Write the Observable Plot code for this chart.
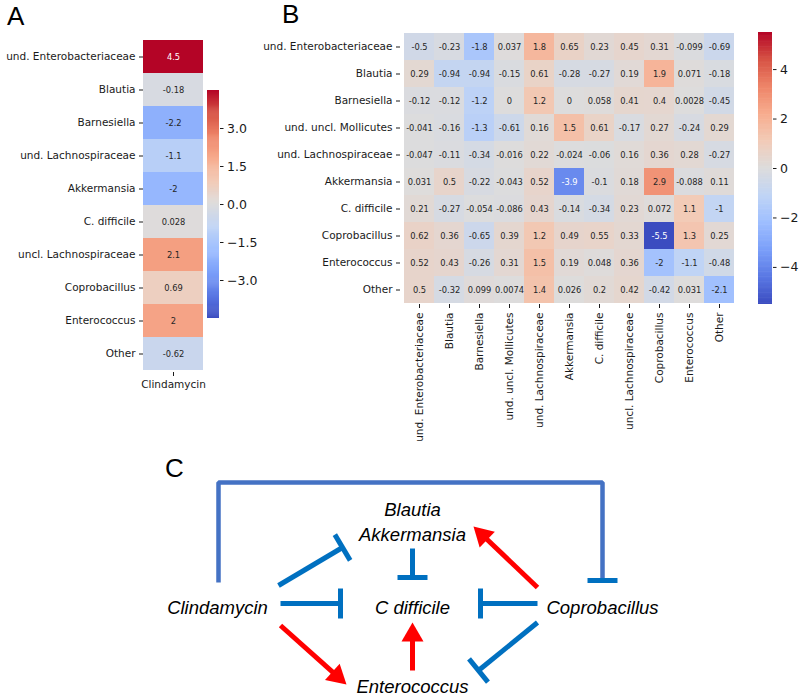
<!DOCTYPE html>
<html><head><meta charset="utf-8">
<script src="https://cdn.jsdelivr.net/npm/d3@7"></script>
<script src="https://cdn.jsdelivr.net/npm/@observablehq/plot@0.6"></script>
<style>
body{margin:0;background:#fff;}
#root{position:relative;width:800px;height:697px;overflow:hidden;background:#fff;font-family:"DejaVu Sans";}
#root > *{position:absolute;}
.panel{font-family:"Liberation Sans";font-size:26px;line-height:26px;color:#000;}
</style></head><body><div id="root"></div>
<script>
// ---------- DATA ----------
const taxaA = ["und. Enterobacteriaceae","Blautia","Barnesiella","und. Lachnospiraceae","Akkermansia","C. difficile","uncl. Lachnospiraceae","Coprobacillus","Enterococcus","Other"];
const clindamycinValues = [4.5,-0.18,-2.2,-1.1,-2,0.028,2.1,0.69,2,-0.62];
const treatmentA = ["Clindamycin"];
const rowsB = ["und. Enterobacteriaceae","Blautia","Barnesiella","und. uncl. Mollicutes","und. Lachnospiraceae","Akkermansia","C. difficile","Coprobacillus","Enterococcus","Other"];
const colsB = ["und. Enterobacteriaceae","Blautia","Barnesiella","und. uncl. Mollicutes","und. Lachnospiraceae","Akkermansia","C. difficile","uncl. Lachnospiraceae","Coprobacillus","Enterococcus","Other"];
const rowEnterobacteriaceae = [-0.5,-0.23,-1.8,0.037,1.8,0.65,0.23,0.45,0.31,-0.099,-0.69];
const rowBlautia = [0.29,-0.94,-0.94,-0.15,0.61,-0.28,-0.27,0.19,1.9,0.071,-0.18];
const rowBarnesiella = [-0.12,-0.12,-1.2,0,1.2,0,0.058,0.41,0.4,0.0028,-0.45];
const rowMollicutes = [-0.041,-0.16,-1.3,-0.61,0.16,1.5,0.61,-0.17,0.27,-0.24,0.29];
const rowLachnospiraceae = [-0.047,-0.11,-0.34,-0.016,0.22,-0.024,-0.06,0.16,0.36,0.28,-0.27];
const rowAkkermansia = [0.031,0.5,-0.22,-0.043,0.52,-3.9,-0.1,0.18,2.9,-0.088,0.11];
const rowCdifficile = [0.21,-0.27,-0.054,-0.086,0.43,-0.14,-0.34,0.23,0.072,1.1,-1];
const rowCoprobacillus = [0.62,0.36,-0.65,0.39,1.2,0.49,0.55,0.33,-5.5,1.3,0.25];
const rowEnterococcus = [0.52,0.43,-0.26,0.31,1.5,0.19,0.048,0.36,-2,-1.1,-0.48];
const rowOther = [0.5,-0.32,0.099,0.0074,1.4,0.026,0.2,0.42,-0.42,0.031,-2.1];
const valuesB = [rowEnterobacteriaceae,rowBlautia,rowBarnesiella,rowMollicutes,rowLachnospiraceae,rowAkkermansia,rowCdifficile,rowCoprobacillus,rowEnterococcus,rowOther];
const colorLimitA = 4.5, colorLimitB = 5.5;
const colorbarTicksA = [-3,-1.5,0,1.5,3];
const colorbarTicksB = [-4,-2,0,2,4];

// diagram (panel C)
const nodeNames = ["Clindamycin","Blautia\nAkkermansia","C difficile","Coprobacillus","Enterococcus"];
const nodeColumn = [0,1,1,2,1];
const nodeRow = [1,0,1,1,2];
const edgeSource = ["Clindamycin","Clindamycin","Clindamycin","Clindamycin","Blautia\nAkkermansia","Coprobacillus","Coprobacillus","Coprobacillus","Enterococcus"];
const edgeTarget = ["Coprobacillus","Blautia\nAkkermansia","C difficile","Enterococcus","C difficile","Blautia\nAkkermansia","C difficile","Enterococcus","C difficile"];
const edgeEffect = ["inhibit-over","inhibit","inhibit","promote","inhibit","promote","inhibit","inhibit","promote"];

// ---------- STYLE ----------
const coolwarm = ["#3b4cc0","#5a78e4","#7b9ff9","#9ebeff","#c0d4f5","#dddcdc","#f2cbb7","#f7ac8e","#ee8468","#d65244","#b40426"];
const colorScale = lim => ({type:"linear", domain: d3.range(11).map(i => -lim + 2*lim*i/10), range: coolwarm, interpolate: "rgb"});
const ink = "#1a1a1a";
const root = document.getElementById("root");
function place(el, left, top){ el.style.left = left+"px"; el.style.top = top+"px"; root.appendChild(el); }
const darkCell = (v, lim) => { const t = (v + lim)/(2*lim); return t < 0.2 || t > 0.85; };
const cellFont = 8.3;

// ---------- PANEL A ----------
const dataA = taxaA.map((t,i) => ({col: treatmentA[0], row: t, value: clindamycinValues[i]}));
const chartA = Plot.plot({
  width: 230, height: 400, marginLeft: 143, marginRight: 27, marginTop: 38, marginBottom: 28,
  style: {fontFamily: "DejaVu Sans", fontSize: "10.5px", color: ink, background: "transparent"},
  x: {domain: treatmentA, padding: 0, label: null, tickSize: 4, tickPadding: 4},
  y: {domain: taxaA, padding: 0, label: null, tickSize: 4, tickPadding: 4},
  color: colorScale(colorLimitA),
  marks: [
    Plot.cell(dataA, {x: "col", y: "row", fill: "value"}),
    Plot.text(dataA.filter(d => !darkCell(d.value, colorLimitA)), {x: "col", y: "row", text: d => String(d.value), fill: "#262626", fontSize: cellFont}),
    Plot.text(dataA.filter(d => darkCell(d.value, colorLimitA)), {x: "col", y: "row", text: d => String(d.value), fill: "white", fontSize: cellFont})
  ]
});
place(chartA, 0, 0);

function colorbar(lim, ticks, fmt, w, h, barW) {
  const n = 220, step = 2*lim/n;
  const steps = d3.range(n).map(i => -lim + i*step);
  return Plot.plot({
    width: w, height: h, marginLeft: 8, marginRight: w - 8 - barW, marginTop: 10, marginBottom: 10,
    style: {fontFamily: "DejaVu Sans", fontSize: "12.5px", color: ink, background: "transparent"},
    x: {domain: [0,1], axis: null},
    y: {domain: [-lim, lim], axis: "right", ticks: ticks, tickFormat: fmt, tickSize: 3.5, tickPadding: 4, label: null},
    color: colorScale(lim),
    marks: [
      Plot.rect(steps, {x1: 0, x2: 1, y1: d => d, y2: d => Math.min(lim, d + step*1.5), fill: d => d + step/2})
    ]
  });
}
place(colorbar(colorLimitA, colorbarTicksA, d3.format(".1f"), 70, 248, 12), 199, 80);

// ---------- PANEL B ----------
const dataB = [];
rowsB.forEach((r,i) => colsB.forEach((c,j) => dataB.push({row: r, col: c, value: valuesB[i][j]})));
const chartB = Plot.plot({
  width: 530, height: 470, marginLeft: 170, marginRight: 23, marginTop: 32, marginBottom: 166,
  style: {fontFamily: "DejaVu Sans", fontSize: "10.5px", color: ink, background: "transparent"},
  x: {domain: colsB, padding: 0, label: null, tickRotate: -90, tickSize: 4, tickPadding: 4},
  y: {domain: rowsB, padding: 0, label: null, tickSize: 4, tickPadding: 4},
  color: colorScale(colorLimitB),
  marks: [
    Plot.cell(dataB, {x: "col", y: "row", fill: "value"}),
    Plot.text(dataB.filter(d => !darkCell(d.value, colorLimitB)), {x: "col", y: "row", text: d => String(d.value), fill: "#262626", fontSize: cellFont}),
    Plot.text(dataB.filter(d => darkCell(d.value, colorLimitB)), {x: "col", y: "row", text: d => String(d.value), fill: "white", fontSize: cellFont})
  ]
});
place(chartB, 230, 0);
place(colorbar(colorLimitB, colorbarTicksB, d3.format("d"), 50, 292, 14), 750, 22);

// ---------- PANEL C ----------
const colX = [217, 412, 602], rowY = [520, 605, 684];
const ports = {
  "Clindamycin": {N:[1,-23], NE:[61,-20], E:[63,-2], SE:[63,20]},
  "Blautia\nAkkermansia": {SW:[-70,27], SE:[61,6], S:[0,28]},
  "C difficile": {N:[0,-28], W:[-72,-2], E:[68,-2], S:[0,17]},
  "Coprobacillus": {N:[0,-25], NW:[-65,-18], W:[-65,-2], SW:[-65,17]},
  "Enterococcus": {NW:[-66,0], N:[0,-14], NE:[66,-14]}
};
const nodes = nodeNames.map((n,i) => ({name: n, x: colX[nodeColumn[i]], y: rowY[nodeRow[i]]}));
const nodeOf = name => nodes.find(d => d.name === name);
const dirKey = (a, b) => { const dx = b.x - a.x, dy = b.y - a.y; return (dy < -1 ? "N" : dy > 1 ? "S" : "") + (dx > 1 ? "E" : dx < -1 ? "W" : ""); };
const port = (node, key) => { const p = ports[node.name][key]; return [node.x + p[0], node.y + p[1]]; };

const inhibitLinks = [], promoteLinks = [], heads = [], bracketPts = [], bracketBars = [];
const barHalf = 15, headLen = 19, headHalf = 11;
edgeSource.forEach((s, i) => {
  const a = nodeOf(s), b = nodeOf(edgeTarget[i]), eff = edgeEffect[i];
  if (eff === "inhibit-over") {
    const S = port(a, "N"), E = port(b, "N"), topY = rowY[0] - 38;
    bracketPts.push({x: S[0], y: S[1]}, {x: S[0], y: topY}, {x: E[0], y: topY}, {x: E[0], y: E[1]});
    bracketBars.push({x1: E[0]-barHalf, y1: E[1], x2: E[0]+barHalf, y2: E[1]});
    return;
  }
  const S = port(a, dirKey(a, b)), E = port(b, dirKey(b, a));
  const L = Math.hypot(E[0]-S[0], E[1]-S[1]);
  const u = [(E[0]-S[0])/L, (E[1]-S[1])/L], nrm = [-u[1], u[0]];
  if (eff === "inhibit") {
    inhibitLinks.push({x1: S[0], y1: S[1], x2: E[0], y2: E[1]});
    inhibitLinks.push({x1: E[0]-nrm[0]*barHalf, y1: E[1]-nrm[1]*barHalf, x2: E[0]+nrm[0]*barHalf, y2: E[1]+nrm[1]*barHalf});
  } else {
    const B = [E[0]-u[0]*headLen, E[1]-u[1]*headLen];
    promoteLinks.push({x1: S[0], y1: S[1], x2: B[0]+u[0]*2, y2: B[1]+u[1]*2});
    heads.push({id: i, x: E[0], y: E[1]});
    heads.push({id: i, x: B[0]+nrm[0]*headHalf, y: B[1]+nrm[1]*headHalf});
    heads.push({id: i, x: B[0]-nrm[0]*headHalf, y: B[1]-nrm[1]*headHalf});
  }
});

const diagram = Plot.plot({
  width: 800, height: 257, margin: 0,
  style: {background: "transparent"},
  x: {domain: [0, 800], range: [0, 800], axis: null},
  y: {domain: [440, 697], range: [0, 257], axis: null},
  marks: [
    Plot.line(bracketPts, {x: "x", y: "y", stroke: "#4472C4", strokeWidth: 4.5, strokeLinejoin: "miter", strokeLinecap: "butt"}),
    Plot.link(bracketBars, {x1: "x1", y1: "y1", x2: "x2", y2: "y2", stroke: "#0070C0", strokeWidth: 5}),
    Plot.link(inhibitLinks, {x1: "x1", y1: "y1", x2: "x2", y2: "y2", stroke: "#0070C0", strokeWidth: 5}),
    Plot.link(promoteLinks, {x1: "x1", y1: "y1", x2: "x2", y2: "y2", stroke: "#ff0000", strokeWidth: 5}),
    Plot.line(heads, {x: "x", y: "y", z: "id", fill: "#ff0000", stroke: "none"}),
    Plot.text(nodes, {x: "x", y: "y", text: "name", fontSize: 18.5, fontStyle: "italic", fontFamily: "Liberation Sans", lineHeight: 1.35, fill: "#000", lineAnchor: "middle"})
  ]
});
place(diagram, 0, 440);

// panel letters
[["A", 7, 3], ["B", 282, 1], ["C", 165, 455]].forEach(([t, l, tp]) => {
  const d = document.createElement("div"); d.className = "panel"; d.textContent = t; place(d, l, tp);
});
</script></body></html>
